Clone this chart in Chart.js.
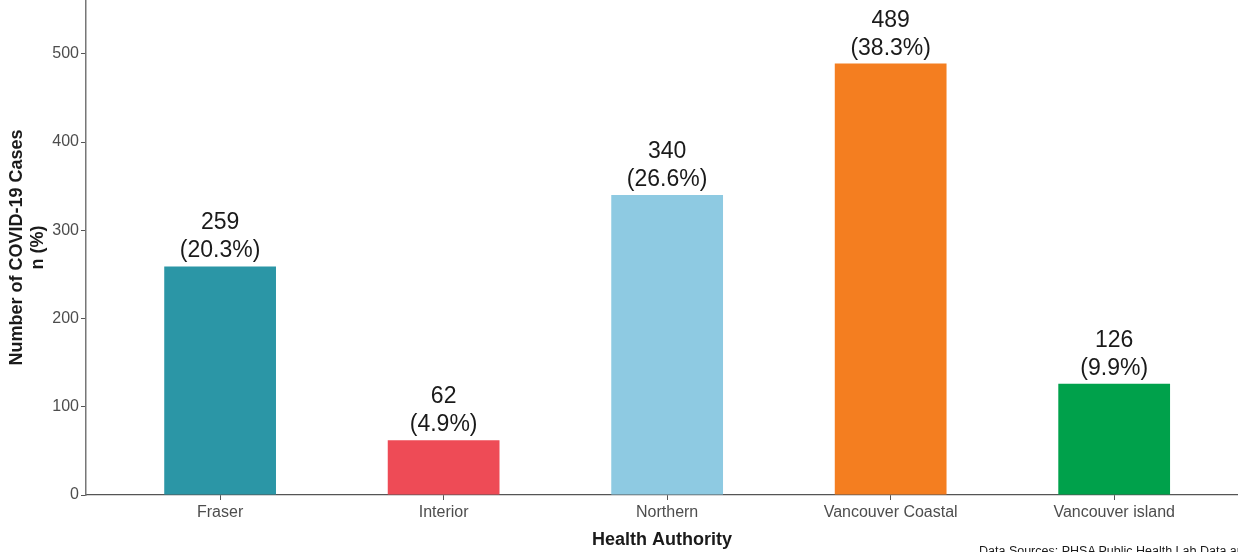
<!DOCTYPE html>
<html>
<head>
<meta charset="utf-8">
<script src="https://cdn.jsdelivr.net/npm/chart.js@4/dist/chart.umd.min.js"></script>
<style>
    html, body { margin: 0; padding: 0; background: #fff; overflow: hidden; }
    #wrap { position: relative; width: 1238px; height: 552px; overflow: hidden; }
    #source {
        position: absolute; left: 979px; top: 544px; white-space: nowrap;
        font: 12.5px "Liberation Sans", Arial, sans-serif; color: #1a1a1a;
    }
</style>
</head>
<body>
<div id="wrap">
    <canvas id="casesChart" width="1238" height="552"></canvas>
    <div id="source">Data Sources: PHSA Public Health Lab Data and</div>
</div>
<script>
// Data
const authorities = ['Fraser', 'Interior', 'Northern', 'Vancouver Coastal', 'Vancouver island'];
const cases = [259, 62, 340, 489, 126];
const percents = ['20.3%', '4.9%', '26.6%', '38.3%', '9.9%'];
const yTicks = [0, 100, 200, 300, 400, 500];
const barColors = ['#2b96a6', '#ee4b56', '#8ecae2', '#f47e20', '#00a14b'];

const FONT = '"Liberation Sans", Arial, sans-serif';

// Count + share above every bar
const barLabels = {
    id: 'barLabels',
    afterDatasetsDraw(chart) {
        const ctx = chart.ctx;
        const meta = chart.getDatasetMeta(0);
        ctx.save();
        ctx.font = '23px ' + FONT;
        ctx.fillStyle = '#1a1a1a';
        ctx.textAlign = 'center';
        ctx.textBaseline = 'alphabetic';
        meta.data.forEach((bar, i) => {
            ctx.fillText('(' + percents[i] + ')', bar.x, bar.y - 9);
            ctx.fillText(String(cases[i]), bar.x, bar.y - 37);
        });
        ctx.restore();
    }
};

function initializeChart() {
    const ctx = document.getElementById('casesChart').getContext('2d');
    new Chart(ctx, {
        type: 'bar',
        data: {
            datasets: [{
                data: cases.map((v, i) => ({ x: i, y: v })),
                backgroundColor: barColors,
                borderWidth: 0,
                categoryPercentage: 1,
                barPercentage: 0.5
            }]
        },
        options: {
            responsive: false,
            animation: false,
            layout: { padding: 0 },
            plugins: {
                legend: { display: false },
                tooltip: { enabled: false }
            },
            scales: {
                x: {
                    type: 'linear',
                    offset: false,
                    min: -0.6,
                    max: 4.554,
                    afterBuildTicks: (scale) => {
                        scale.ticks = authorities.map((a, i) => ({ value: i }));
                    },
                    afterFit: (scale) => {
                        scale.height = 57;
                        scale.paddingLeft = 0;
                        scale.paddingRight = 0;
                    },
                    grid: { offset: false, drawOnChartArea: false, drawTicks: true, tickLength: 5, color: '#555' },
                    border: { display: true, color: '#555', width: 1.2 },
                    ticks: {
                        autoSkip: false,
                        maxRotation: 0,
                        padding: 3,
                        color: '#4d4d4d',
                        font: { family: FONT, size: 16 },
                        callback: (v) => authorities[v]
                    },
                    title: {
                        display: true,
                        text: 'Health Authority',
                        color: '#1a1a1a',
                        font: { family: FONT, size: 18, weight: 'bold', lineHeight: 1.2 },
                        padding: { top: 0, bottom: 1 }
                    }
                },
                y: {
                    min: 0,
                    max: 561,
                    afterBuildTicks: (scale) => {
                        scale.ticks = yTicks.map(v => ({ value: v }));
                    },
                    afterFit: (scale) => {
                        scale.width = 86;
                        scale.paddingTop = 0;
                        scale.paddingBottom = 0;
                    },
                    grid: { drawOnChartArea: false, drawTicks: true, tickLength: 5, color: '#555' },
                    border: { display: true, color: '#777', width: 1.5 },
                    ticks: {
                        padding: 2,
                        color: '#4d4d4d',
                        font: { family: FONT, size: 16 }
                    },
                    title: {
                        display: true,
                        text: ['Number of COVID-19 Cases', 'n (%)'],
                        color: '#1a1a1a',
                        font: { family: FONT, size: 18, weight: 'bold', lineHeight: 1.15 },
                        padding: { top: 7, bottom: 0 }
                    }
                }
            }
        },
        plugins: [barLabels]
    });
}

window.onload = initializeChart;
</script>
</body>
</html>
